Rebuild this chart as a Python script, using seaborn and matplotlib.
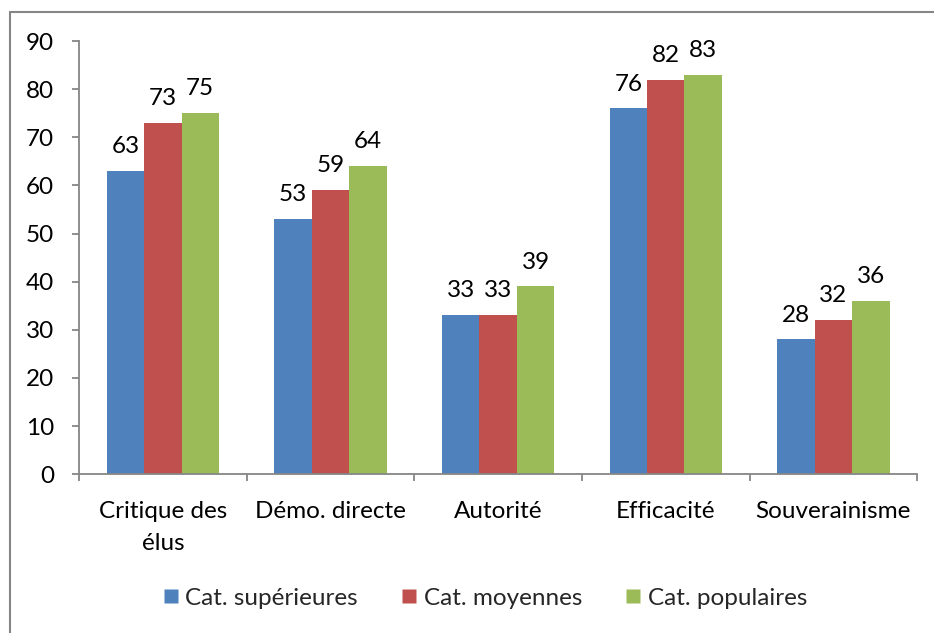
import matplotlib
matplotlib.use("Agg")
import matplotlib.pyplot as plt
import seaborn as sns
import pandas as pd
from matplotlib.lines import Line2D

categories = ["Critique des\nélus", "Démo. directe", "Autorité", "Efficacité", "Souverainisme"]
groups = ["Cat. supérieures", "Cat. moyennes", "Cat. populaires"]
sup_values = [63, 53, 33, 76, 28]
moy_values = [73, 59, 33, 82, 32]
pop_values = [75, 64, 39, 83, 36]
colors = ["#4F81BD", "#C0504D", "#9BBB59"]

rows = []
for g, vals in zip(groups, [sup_values, moy_values, pop_values]):
    for c, v in zip(categories, vals):
        rows.append({"cat": c, "group": g, "value": v})
df = pd.DataFrame(rows)

sns.set_theme(style="white")
plt.rcParams["font.family"] = ["Lato", "DejaVu Sans"]
axis_grey = "#868686"
fs = 17.5

fig = plt.figure(figsize=(9.34, 6.33), dpi=100)
ax = fig.add_axes([0.0846, 0.251, 0.8974, 0.684])
sns.barplot(data=df, x="cat", y="value", hue="group", palette=colors,
            width=0.67, gap=0, saturation=1, ax=ax, legend=False,
            edgecolor="none")

for cont in ax.containers:
    ax.bar_label(cont, fontsize=fs, padding=10, color="black")

ax.set_ylim(0, 90)
ax.set_yticks(range(0, 91, 10))
ax.set_xlim(-0.5, len(categories) - 0.5)
ax.set_xlabel("")
ax.set_ylabel("")
for side in ["top", "right"]:
    ax.spines[side].set_visible(False)
for side in ["left", "bottom"]:
    ax.spines[side].set_color(axis_grey)
    ax.spines[side].set_linewidth(1.3)

ax.tick_params(axis="y", which="major", left=True, length=5, width=1.3,
               color=axis_grey, labelsize=fs, pad=13, labelcolor="black")
ax.tick_params(axis="x", which="major", bottom=False, length=0, labelsize=fs,
               pad=19, labelcolor="black")
for lab in ax.get_xticklabels():
    lab.set_linespacing(1.65)
ax.set_xticks([i - 0.5 for i in range(len(categories) + 1)], minor=True)
ax.tick_params(axis="x", which="minor", bottom=True, length=5, width=1.3,
               color=axis_grey)

handles = [Line2D([0], [0], marker="s", linestyle="none", markersize=10,
                  markerfacecolor=c, markeredgecolor="none") for c in colors]
fig.legend(handles, groups, loc="center", bbox_to_anchor=(0.517, 0.055),
           ncol=3, frameon=False, fontsize=fs, handletextpad=0.1,
           columnspacing=1.6, handlelength=1.0)

# chart frame (cropped on right and bottom)
fx = 10 / 934
fy = 1 - 12 / 633
fig.add_artist(Line2D([fx, 1], [fy, fy], transform=fig.transFigure,
                      color=axis_grey, linewidth=1.5))
fig.add_artist(Line2D([fx, fx], [0, fy], transform=fig.transFigure,
                      color=axis_grey, linewidth=1.5))

fig.savefig("out.png", dpi=100, facecolor="white")
plt.close(fig)
